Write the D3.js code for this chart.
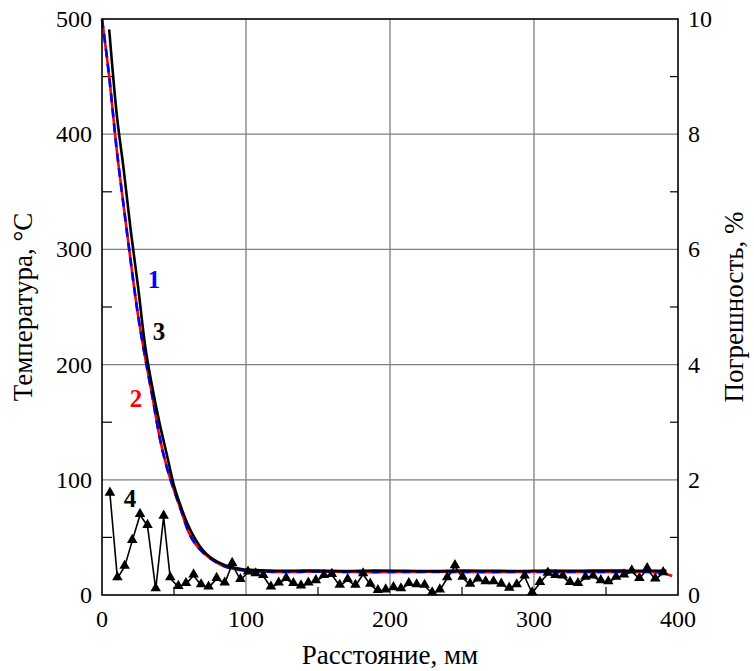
<html>
<head>
  <meta charset="utf-8">
  <script src="https://d3js.org/d3.v7.min.js"></script>
  <style>
    body { margin: 0; background: #fff; }
    svg text { font-family: 'Liberation Serif', 'Times New Roman', serif; }
    .tick-label { font-size: 24px; }
    .title { font-size: 27px; }
    .curve-label { font-size: 25px; font-weight: bold; }
  </style>
</head>
<body>
<svg id="chart" width="754" height="671"></svg>
<script>
// curves 1 and 2 (model), temperature in °C vs distance in mm
const distRed = [0, 5, 10, 15, 20, 25, 30, 35, 40, 45, 50, 55, 60, 65, 70, 75, 80, 85, 90, 95, 100,
                 110, 130, 150, 170, 190, 210, 230, 250, 270, 290, 310, 330, 350, 370, 386, 396];
const tempRed = [500, 450, 389, 338, 289, 243, 206, 172, 137, 111, 91, 73, 55, 44, 37, 32, 28, 25, 23, 22, 21,
                 20.5, 20, 20.3, 20, 19.8, 20, 20.2, 20, 19.8, 20, 20.2, 20, 20, 20.3, 19.5, 16.5];
const distBlue = [0, 5, 10, 15, 20, 25, 30, 35, 40, 45, 50, 55, 60, 65, 70, 75, 80, 85, 90, 95, 100,
                  110, 130, 150, 170, 190, 210, 230, 250, 270, 290, 310, 330, 350, 370, 390];
const tempBlue = [500, 450, 389, 338, 289, 243, 206, 172, 137, 111, 91, 73, 55, 44, 37, 32, 28, 25, 23, 22, 21,
                  20.3, 20, 20.2, 20, 19.9, 20, 20.1, 20, 19.9, 20, 20.1, 20, 20, 20.2, 19.6];
// curve 3 (measured)
const distBlack = [5, 10, 15, 20, 25, 30, 35, 40, 45, 50, 55, 60, 65, 70, 75, 80, 85, 90, 95, 100,
                   110, 130, 150, 170, 190, 210, 230, 250, 270, 290, 310, 330, 350, 370, 392];
const tempBlack = [491, 420, 370, 316, 268, 216, 180, 149, 122, 95, 76, 60, 48, 39, 33, 29, 26, 24, 23, 22,
                   21.5, 21, 21.3, 20.8, 21.2, 21, 20.7, 21.2, 21, 20.8, 21.2, 21, 21.3, 21, 21];
// curve 4: error, %
const distErr = [5.5, 10.7, 15.7, 21, 26.4, 31.6, 37.3, 42.8, 47.4, 53, 58.3, 63.6, 68.8, 74, 79.6, 85.2, 90.4, 96.1,
                 101.4, 106.7, 112, 117.3, 122.7, 127.9, 132.9, 138.2, 143.3, 148.5, 154.1, 159.6, 165.1, 170.6,
                 176, 181.3, 186.3, 191.6, 197, 202.4, 207.6, 213.1, 218.5, 224, 229.3, 234.6, 239.7, 245.1,
                 250.4, 255.6, 261, 266.4, 271.9, 277.3, 282.8, 288, 293.5, 298.7, 304.1, 309.6, 314.9, 320,
                 325, 330.5, 335.7, 341, 346.4, 351.6, 357, 362.5, 367.9, 373.2, 378.6, 384.2, 389.7];
const errPct = [1.76, 0.29, 0.49, 0.94, 1.39, 1.2, 0.1, 1.36, 0.29, 0.14, 0.19, 0.34, 0.17, 0.13, 0.28, 0.2, 0.54, 0.26,
                0.39, 0.36, 0.33, 0.13, 0.2, 0.28, 0.19, 0.15, 0.2, 0.24, 0.33, 0.35, 0.16, 0.26,
                0.16, 0.36, 0.18, 0.07, 0.08, 0.12, 0.1, 0.19, 0.17, 0.16, 0.03, 0.08, 0.29, 0.5,
                0.3, 0.18, 0.27, 0.22, 0.22, 0.18, 0.11, 0.17, 0.32, 0.03, 0.21, 0.37, 0.33, 0.32,
                0.21, 0.19, 0.3, 0.32, 0.24, 0.22, 0.3, 0.34, 0.41, 0.28, 0.45, 0.27, 0.38];

const xTicks = [0, 100, 200, 300, 400];
const yTicks = [0, 100, 200, 300, 400, 500];
const y2Ticks = [0, 2, 4, 6, 8, 10];
const xMinor = [50, 150, 250, 350];
const yMinor = [50, 150, 250, 350, 450];
const y2Minor = [1, 3, 5, 7, 9];

const svg = d3.select("#chart");
const margin = {top: 19, right: 76, bottom: 76, left: 102};
const width = +svg.attr("width"), height = +svg.attr("height");
const x0 = margin.left, x1 = width - margin.right, y0 = height - margin.bottom, y1 = margin.top;

const xScale = d3.scaleLinear().domain([0, 400]).range([x0, x1]);
const yScale = d3.scaleLinear().domain([0, 500]).range([y0, y1]);
const y2Scale = d3.scaleLinear().domain([0, 10]).range([y0, y1]);

svg.append("rect").attr("width", width).attr("height", height).attr("fill", "#fff");

// gridlines
const grid = svg.append("g").attr("stroke", "#7f7f7f").attr("stroke-width", 1.3);
xTicks.slice(1, -1).forEach(t => {
  grid.append("line").attr("x1", xScale(t)).attr("x2", xScale(t)).attr("y1", y0).attr("y2", y1);
});
yTicks.slice(1, -1).forEach(t => {
  grid.append("line").attr("x1", x0).attr("x2", x1).attr("y1", yScale(t)).attr("y2", yScale(t));
});

// minor ticks (inward)
const ticks = svg.append("g").attr("stroke", "#000").attr("stroke-width", 1.2);
xMinor.forEach(t => ticks.append("line").attr("x1", xScale(t)).attr("x2", xScale(t)).attr("y1", y0).attr("y2", y0 - 8));
yMinor.forEach(t => ticks.append("line").attr("x1", x0).attr("x2", x0 + 10).attr("y1", yScale(t)).attr("y2", yScale(t)));
y2Minor.forEach(t => ticks.append("line").attr("x1", x1).attr("x2", x1 - 8).attr("y1", y2Scale(t)).attr("y2", y2Scale(t)));

// tick labels
const labels = svg.append("g").attr("class", "tick-label").attr("fill", "#000");
xTicks.forEach(t => labels.append("text").attr("x", xScale(t)).attr("y", y0 + 32)
  .attr("text-anchor", "middle").text(t));
yTicks.forEach(t => labels.append("text").attr("x", x0 - 10).attr("y", yScale(t) + 8)
  .attr("text-anchor", "end").text(t));
y2Ticks.forEach(t => labels.append("text").attr("x", x1 + 10).attr("y", y2Scale(t) + 8)
  .attr("text-anchor", "start").text(t));

// axis titles
svg.append("text").attr("class", "title").attr("text-anchor", "middle")
  .attr("x", (x0 + x1) / 2).attr("y", 664).text("Расстояние, мм");
svg.append("text").attr("class", "title").attr("text-anchor", "middle")
  .attr("transform", `translate(32,${(y0 + y1) / 2}) rotate(-90)`).text("Температура, °С");
svg.append("text").attr("class", "title").attr("text-anchor", "middle")
  .attr("transform", `translate(743,${(y0 + y1) / 2}) rotate(-90)`).text("Погрешность, %");

// curves
const plot = svg.append("g");
const line = d3.line().x(d => xScale(d[0])).y(d => yScale(d[1])).curve(d3.curveMonotoneX);

plot.append("path").datum(d3.zip(distRed, tempRed)).attr("d", line)
  .attr("fill", "none").attr("stroke", "#ff0000").attr("stroke-width", 2.6);
plot.append("path").datum(d3.zip(distBlue, tempBlue)).attr("d", line)
  .attr("fill", "none").attr("stroke", "#0000ff").attr("stroke-width", 2.6)
  .attr("stroke-dasharray", "9,6");
plot.append("path").datum(d3.zip(distBlack, tempBlack)).attr("d", line)
  .attr("fill", "none").attr("stroke", "#000").attr("stroke-width", 2.6);

// error curve on right axis
const errLine = d3.line().x(d => xScale(d[0])).y(d => y2Scale(d[1]));
const errData = d3.zip(distErr, errPct);
plot.append("path").datum(errData).attr("d", errLine)
  .attr("fill", "none").attr("stroke", "#000").attr("stroke-width", 1.6);
plot.selectAll("path.tri").data(errData).join("path")
  .attr("class", "tri")
  .attr("transform", d => `translate(${xScale(d[0])},${y2Scale(d[1]) - 1})`)
  .attr("d", d3.symbol().type(d3.symbolTriangle).size(48))
  .attr("fill", "#000");

// frame
svg.append("rect").attr("x", x0).attr("y", y1).attr("width", x1 - x0).attr("height", y0 - y1)
  .attr("fill", "none").attr("stroke", "#000").attr("stroke-width", 1.6);

// curve labels
const cl = svg.append("g").attr("class", "curve-label");
cl.append("text").attr("x", 154).attr("y", 288).attr("text-anchor", "middle").attr("fill", "#0000ff").text("1");
cl.append("text").attr("x", 136).attr("y", 407).attr("text-anchor", "middle").attr("fill", "#ff0000").text("2");
cl.append("text").attr("x", 159).attr("y", 340).attr("text-anchor", "middle").attr("fill", "#000").text("3");
cl.append("text").attr("x", 130).attr("y", 507).attr("text-anchor", "middle").attr("fill", "#000").text("4");
</script>
</body>
</html>
